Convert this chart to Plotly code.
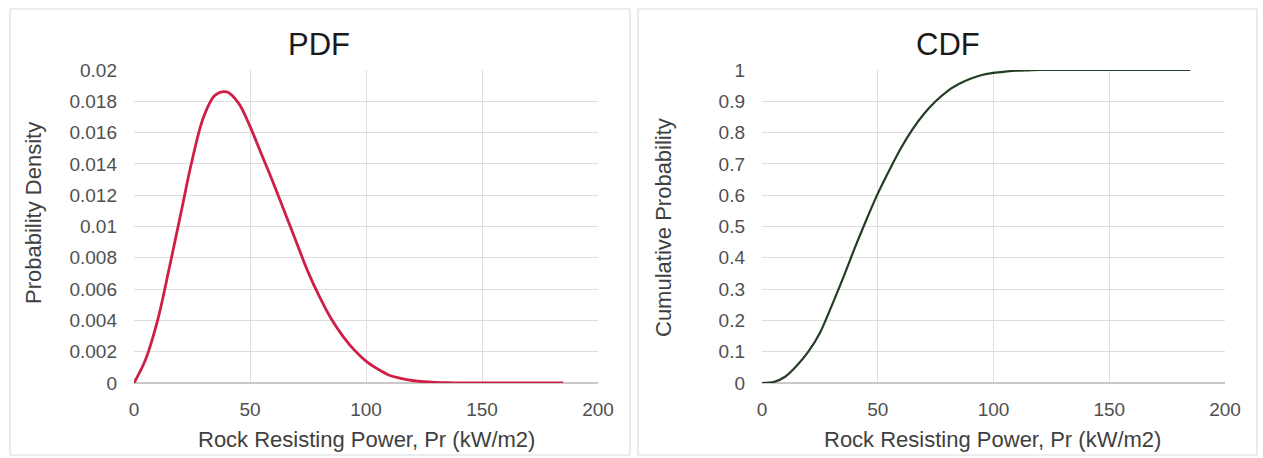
import plotly.graph_objects as go

# ---- data ----
pr_values = [0, 5, 10, 15, 20, 25, 30, 35, 40, 45, 50, 55, 60, 65, 70, 75, 80, 85, 90,
             95, 100, 105, 110, 115, 120, 125, 130, 135, 140, 145, 150, 155, 160, 165,
             170, 175, 180, 185]
pdf_values = [0, 0.0015, 0.0039, 0.0072, 0.0107, 0.0142, 0.0170, 0.0184, 0.0186, 0.0179,
              0.0164, 0.0146, 0.0128, 0.0109, 0.0090, 0.0071, 0.0055, 0.0041, 0.0030,
              0.0021, 0.0014, 0.0009, 0.0005, 0.0003, 0.00016, 0.00008, 0.00004, 0.00002,
              0.00001, 0, 0, 0, 0, 0, 0, 0, 0, 0]
cdf_values = [0, 0.003, 0.02, 0.055, 0.10, 0.16, 0.245, 0.335, 0.43, 0.52, 0.605, 0.68,
              0.75, 0.81, 0.86, 0.90, 0.932, 0.955, 0.972, 0.984, 0.991, 0.995, 0.998,
              0.999, 1, 1, 1, 1, 1, 1, 1, 1, 1, 1, 1, 1, 1, 1]

x_ticks = [0, 50, 100, 150, 200]
x_tick_text = ["0", "50", "100", "150", "200"]
pdf_ticks = [0, 0.002, 0.004, 0.006, 0.008, 0.01, 0.012, 0.014, 0.016, 0.018, 0.02]
pdf_tick_text = ["0", "0.002", "0.004", "0.006", "0.008", "0.01", "0.012", "0.014",
                 "0.016", "0.018", "0.02"]
cdf_ticks = [0, 0.1, 0.2, 0.3, 0.4, 0.5, 0.6, 0.7, 0.8, 0.9, 1]
cdf_tick_text = ["0", "0.1", "0.2", "0.3", "0.4", "0.5", "0.6", "0.7", "0.8", "0.9", "1"]

titles = ["PDF", "CDF"]
x_title = "Rock Resisting Power, Pr (kW/m2)"
y_titles = ["Probability Density", "Cumulative Probability"]

# ---- layout geometry (pixels) ----
W, H = 1263, 458
def px(x):
    return x / W
def py(y):
    return 1 - y / H

FONT = "Liberation Sans, Arial, sans-serif"
TICK_COLOR = "#505050"
GRID = "#dedede"

fig = go.Figure()
fig.add_trace(go.Scatter(x=pr_values, y=pdf_values, mode="lines",
                         line=dict(color="#cf1f47", width=2.8, shape="spline", smoothing=1.0),
                         xaxis="x", yaxis="y", showlegend=False))
fig.add_trace(go.Scatter(x=pr_values, y=cdf_values, mode="lines",
                         line=dict(color="#243d24", width=2.2, shape="spline", smoothing=0.8),
                         xaxis="x2", yaxis="y2", showlegend=False))

common_x = dict(range=[0, 200], tickvals=x_ticks, ticktext=x_tick_text,
                showgrid=True, gridcolor=GRID, gridwidth=1, zeroline=False,
                showline=False, ticks="", ticklabelstandoff=13, automargin=False,
                tickfont=dict(family=FONT, size=19, color=TICK_COLOR), fixedrange=True)
common_y = dict(showgrid=True, gridcolor=GRID, gridwidth=1, zeroline=True,
                zerolinecolor="#c8c8c8", zerolinewidth=1.5, showline=False, ticks="",
                ticklabelstandoff=16, automargin=False,
                tickfont=dict(family=FONT, size=19, color=TICK_COLOR), fixedrange=True)

plot_top, plot_bot = 70, 383
fig.update_layout(
    width=W, height=H, autosize=False,
    margin=dict(l=0, r=0, t=0, b=0, pad=0),
    paper_bgcolor="white", plot_bgcolor="white",
    xaxis=dict(domain=[px(134), px(598)], anchor="y", **common_x),
    yaxis=dict(domain=[py(plot_bot), py(plot_top)], anchor="x", range=[0, 0.02],
               tickvals=pdf_ticks, ticktext=pdf_tick_text, **common_y),
    xaxis2=dict(domain=[px(762), px(1225)], anchor="y2", **common_x),
    yaxis2=dict(domain=[py(plot_bot), py(plot_top)], anchor="x2", range=[0, 1],
                tickvals=cdf_ticks, ticktext=cdf_tick_text, **common_y),
)

# panel borders
for x0, x1 in [(10, 630), (638, 1257)]:
    fig.add_shape(type="rect", xref="paper", yref="paper",
                  x0=px(x0), x1=px(x1), y0=py(455), y1=py(9),
                  line=dict(color="#dcdcdc", width=1.2), fillcolor="rgba(0,0,0,0)",
                  layer="below")

# titles and axis titles
title_x = [319, 948]
ylab_x = [34, 663]
ylab_y = [213, 228]
xlab_x = [366, 993]
for i in range(2):
    fig.add_annotation(text=titles[i], x=px(title_x[i]), y=py(45), xref="paper", yref="paper",
                       showarrow=False, xanchor="center", yanchor="middle",
                       font=dict(family=FONT, size=31, color="#1a1a1a"))
    fig.add_annotation(text=y_titles[i], x=px(ylab_x[i]), y=py(ylab_y[i]),
                       xref="paper", yref="paper", textangle=-90,
                       showarrow=False, xanchor="center", yanchor="middle",
                       font=dict(family=FONT, size=22, color="#404040"))
    fig.add_annotation(text=x_title, x=px(xlab_x[i]), y=py(439), xref="paper", yref="paper",
                       showarrow=False, xanchor="center", yanchor="middle",
                       font=dict(family=FONT, size=22, color="#404040"))

fig.write_html("out.html", config={"displayModeBar": False},
               post_script="document.body.style.margin='0';document.body.style.overflow='hidden';")
